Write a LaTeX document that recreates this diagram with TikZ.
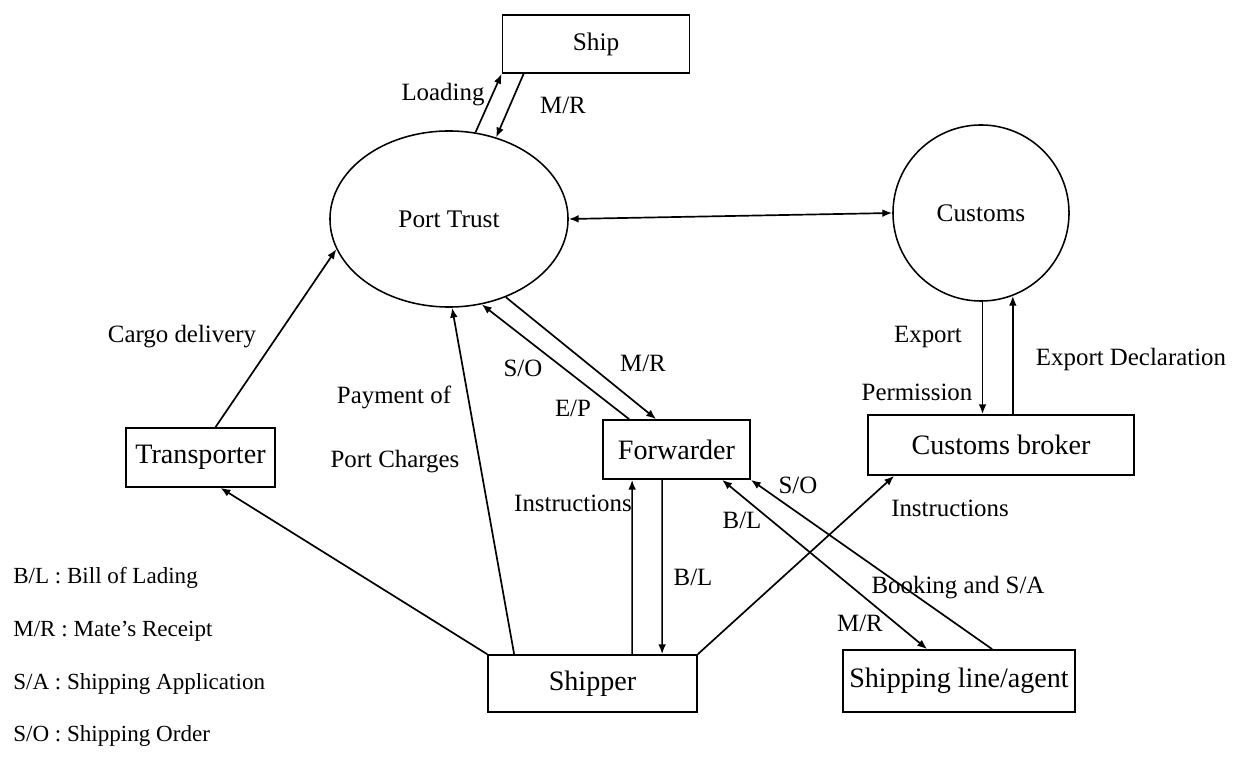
\documentclass[tikz,border=0pt]{standalone}
\usepackage{fontspec}
\setmainfont{Liberation Serif}
\usetikzlibrary{arrows.meta,positioning,shapes.geometric,calc}

\tikzset{
  box/.style={draw,line width=1.2pt,inner sep=0pt,font=\fontsize{20}{24}\selectfont},
  office/.style={draw,line width=1.1pt,inner sep=0pt,font=\fontsize{18}{22}\selectfont},
  lbl/.style={font=\fontsize{17.7}{21}\selectfont,inner sep=1pt},
  key/.style={font=\fontsize{16.4}{20}\selectfont,anchor=west,inner sep=0pt},
  flow/.style={line width=1.2pt,-{Latex[length=7pt,width=5.5pt]}},
  both/.style={line width=1.2pt,{Latex[length=7pt,width=5.5pt]}-{Latex[length=7pt,width=5.5pt]}}
}

\begin{document}
\begin{tikzpicture}[x=0.025cm,y=-0.025cm]
  \useasboundingbox (0,0) rectangle (1242,766);

  % port and customs offices
  \node[office,ellipse,minimum width=5.95cm,minimum height=4.4cm] (port) at (449,219) {Port Trust};
  \node[office,circle,minimum size=4.4cm] (customs) at (981,213) {Customs};

  % parties
  \node[box,minimum width=4.675cm,minimum height=1.45cm,font=\fontsize{18}{22}\selectfont] (ship) at (596,44) {Ship};
  \node[box,minimum width=3.725cm,minimum height=1.475cm] (trans) at (200.5,457.5) {Transporter};
  \node[box,minimum width=3.675cm,minimum height=1.475cm] (fwd) at (676.5,449.5) {Forwarder};
  \node[box,minimum width=6.65cm,minimum height=1.5cm] (broker) at (1001,445) {Customs broker};
  \node[box,minimum width=5.225cm,minimum height=1.425cm] (shipper) at (592.5,683.5) {Shipper};
  \node[box,minimum width=5.8cm,minimum height=1.55cm] (line) at (959,681) {Shipping line/agent};

  % flows
  \draw[flow] (port.73) -- (ship.south west);
  \draw[flow] ($(ship.south west)+(22,0)$) -- (port.60);
  \draw[both] (port.east) -- (customs.west);
  \draw[flow] ($(trans.north)+(15,0)$) -- (port.195);
  \draw[flow] (shipper.north west) -- ($(trans.south)+(20,0)$);
  \draw[flow] ($(shipper.north west)+(27,0)$) -- (port.272);
  \draw[flow] ($(fwd.north west)+(27,0)$) -- (port.291);
  \draw[flow] (port.306) -- ($(fwd.north west)+(54,0)$);
  \draw[flow] ($(shipper.north west)+(145,0)$) -- ($(fwd.south west)+(30,0)$);
  \draw[flow] ($(fwd.south west)+(60,0)$) -- ($(shipper.north west)+(175,0)$);
  \draw[flow] (shipper.north east) -- ($(broker.south west)+(27,0)$);
  \draw[both] ($(fwd.south west)+(120,0)$) -- ($(line.north west)+(85,0)$);
  \draw[flow] ($(line.north west)+(150,0)$) -- (fwd.south east);
  \draw[flow] (customs.-89) -- (customs.-89 |- broker.north);
  \draw[flow] (customs.-69 |- broker.north) -- (customs.-69);

  % flow labels
  \node[lbl] (lload) at (443,95) {Loading};
  \node[lbl] (lmr1) at (563,105) {M/R};
  \node[lbl] (lcargo) at (182,337) {Cargo delivery};
  \node[lbl] (lpay) at (394,397) {Payment of};
  \node[lbl] (lcharge) at (395,462) {Port Charges};
  \node[lbl] (lso1) at (523,368) {S/O};
  \node[lbl] (lep) at (573,408) {E/P};
  \node[lbl] (lmr2) at (643,363) {M/R};
  \node[lbl] (lins1) at (573,503) {Instructions};
  \node[lbl] (lbl1) at (693,577) {B/L};
  \node[lbl] (lso2) at (798,485) {S/O};
  \node[lbl] (lbl2) at (742,520) {B/L};
  \node[lbl] (lbook) at (958,588) {Booking and S/A};
  \node[lbl] (lmr3) at (860,623) {M/R};
  \node[lbl] (lexp) at (928,337) {Export};
  \node[lbl] (lperm) at (917,392) {Permission};
  \node[lbl] (ldecl) at (1131,360) {Export Declaration};
  \node[lbl] (lins2) at (950,508) {Instructions};

  % abbreviations
  \node[key] (kbl) at (13,578) {B/L : Bill of Lading};
  \node[key] (kmr) at (13,631) {M/R : Mate's Receipt};
  \node[key] (ksa) at (13,684) {S/A : Shipping Application};
  \node[key] (kso) at (13,736) {S/O : Shipping Order};
\end{tikzpicture}
\end{document}
